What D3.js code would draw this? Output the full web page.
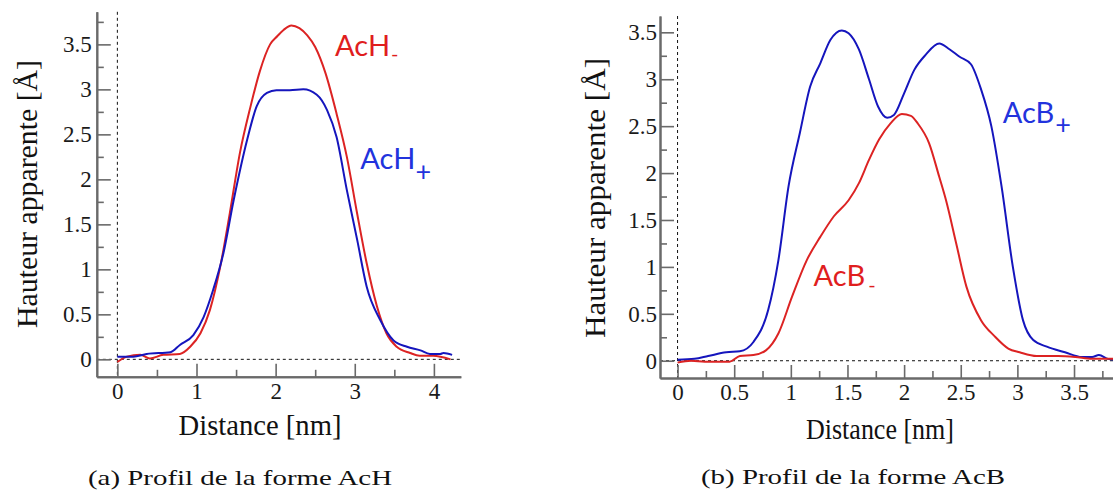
<!DOCTYPE html>
<html><head><meta charset="utf-8">
<script src="https://cdn.jsdelivr.net/npm/d3@7"></script>
<style>
body{margin:0;background:#fff}svg{display:block}
.serif{font-family:"Liberation Serif",serif}
.sans{font-family:Lato,"Open Sans",sans-serif}
</style>
</head><body>
<svg id="c" width="1113" height="490"></svg>
<script>
// ---------- data: panel (a) AcH ----------
const acHMinusDist = [0,0.12,0.29,0.41,0.58,0.79,0.92,1.05,1.17,1.30,1.42,1.55,1.68,1.80,1.93,2.02,2.10,2.20,2.30,2.40,2.50,2.63,2.77,2.90,3.03,3.15,3.28,3.40,3.53,3.70,3.82,3.99,4.21];
const acHMinusHeight = [-0.03,0.03,0.05,0.01,0.05,0.06,0.14,0.29,0.55,1.03,1.62,2.30,2.80,3.20,3.50,3.59,3.66,3.71,3.68,3.60,3.47,3.18,2.73,2.25,1.62,1.07,0.59,0.29,0.14,0.07,0.04,0.04,0.0];
const acHPlusDist = [0,0.2,0.37,0.67,0.79,0.96,1.09,1.21,1.34,1.47,1.64,1.76,1.89,2.01,2.18,2.35,2.52,2.65,2.77,2.90,3.03,3.15,3.32,3.49,3.66,3.83,3.95,4.08,4.12,4.23];
const acHPlusHeight = [0.03,0.03,0.06,0.08,0.16,0.27,0.47,0.77,1.18,1.77,2.44,2.81,2.96,2.99,2.99,3.0,2.94,2.77,2.47,1.88,1.33,0.81,0.44,0.21,0.14,0.10,0.06,0.06,0.07,0.05];

// ---------- data: panel (b) AcB ----------
const acBPlusDist = [0,0.15,0.27,0.43,0.55,0.67,0.80,0.89,0.98,1.08,1.17,1.26,1.35,1.45,1.51,1.60,1.69,1.77,1.85,1.91,2.00,2.09,2.19,2.31,2.40,2.49,2.59,2.68,2.77,2.86,2.96,3.05,3.14,3.26,3.42,3.57,3.66,3.72,3.80,3.87];
const acBPlusHeight = [0.01,0.02,0.05,0.09,0.10,0.20,0.54,1.07,1.86,2.43,2.92,3.17,3.42,3.52,3.49,3.32,3.00,2.71,2.59,2.62,2.85,3.10,3.26,3.38,3.32,3.24,3.16,2.89,2.50,1.86,1.00,0.43,0.22,0.15,0.09,0.04,0.04,0.06,0.02,0.01];
const acBMinusDist = [0,0.12,0.24,0.46,0.55,0.67,0.78,0.89,1.01,1.14,1.26,1.38,1.51,1.60,1.69,1.78,1.88,1.98,2.06,2.12,2.22,2.31,2.37,2.46,2.55,2.68,2.80,2.92,3.02,3.17,3.36,3.51,3.66,3.87];
const acBMinusHeight = [-0.02,0.0,-0.01,-0.01,0.05,0.06,0.11,0.29,0.68,1.07,1.32,1.54,1.71,1.89,2.14,2.36,2.53,2.63,2.61,2.53,2.32,1.96,1.71,1.25,0.79,0.43,0.26,0.13,0.09,0.05,0.05,0.04,0.02,0.02];

// ---------- ticks ----------
const aXTicks = [0,1,2,3,4];
const aXTickLabels = ["0","1","2","3","4"];
const aXMinor = [0.5,1.5,2.5,3.5];
const yTicks = [0,0.5,1,1.5,2,2.5,3,3.5];
const yTickLabels = ["0","0.5","1","1.5","2","2.5","3","3.5"];
const aYMinor = [0.25,0.75,1.25,1.75,2.25,2.75,3.25,3.75];
const bXTicks = [0,0.5,1,1.5,2,2.5,3,3.5];
const bXTickLabels = ["0","0.5","1","1.5","2","2.5","3","3.5"];
const bXMinor = [0.25,0.75,1.25,1.75,2.25,2.75,3.25,3.75];
const bYMinor = [0.25,0.75,1.25,1.75,2.25,2.75,3.25];

const xTitle = "Distance [nm]";
const yTitle = "Hauteur apparente [Å]";
const captions = ["(a) Profil de la forme AcH", "(b) Profil de la forme AcB"];

const RED_LINE = "#dc2323", BLUE_LINE = "#1515bd";
const RED_LABEL = "#e01e1e", BLUE_LABEL = "#2233dd";

const svg = d3.select("#c");

function panel(cfg) {
  const g = svg.append("g");
  const x = d3.scaleLinear().domain(cfg.xDomain).range(cfg.xRange);
  const y = d3.scaleLinear().domain(cfg.yDomain).range(cfg.yRange);
  const [xl, xr] = cfg.xRange, [yb, yt] = cfg.yRange;

  // dashed zero lines
  g.append("line").attr("x1", x(0)).attr("x2", x(0)).attr("y1", yt).attr("y2", yb)
    .attr("stroke", "#111").attr("stroke-width", 1).attr("stroke-dasharray", "3,3");
  g.append("line").attr("x1", xl).attr("x2", xr).attr("y1", y(0)).attr("y2", y(0))
    .attr("stroke", "#111").attr("stroke-width", 1).attr("stroke-dasharray", "3,3");

  const styleAxis = sel => {
    sel.attr("font-family", null).attr("font-size", null);
    sel.select(".domain").attr("stroke", "#6a6a6a").attr("stroke-width", 2);
    sel.selectAll(".tick line").attr("stroke", "#6a6a6a").attr("stroke-width", 1.6);
    sel.selectAll("text").attr("class", "serif").style("font-size", "23px").attr("fill", "#1a1a1a");
  };

  g.append("g").attr("transform", `translate(0,${yb})`)
    .call(d3.axisBottom(x).tickValues(cfg.xMinor).tickSizeInner(-7).tickSizeOuter(0).tickFormat(""))
    .call(styleAxis);
  g.append("g").attr("transform", `translate(0,${yb})`)
    .call(d3.axisBottom(x).tickValues(cfg.xTicks).tickSizeInner(-13).tickSizeOuter(0).tickPadding(6)
      .tickFormat((d, i) => cfg.xTickLabels[i]))
    .call(styleAxis);
  g.append("g").attr("transform", `translate(${xl},0)`)
    .call(d3.axisLeft(y).tickValues(cfg.yMinor).tickSizeInner(-7).tickSizeOuter(0).tickFormat(""))
    .call(styleAxis);
  g.append("g").attr("transform", `translate(${xl},0)`)
    .call(d3.axisLeft(y).tickValues(yTicks).tickSizeInner(-14).tickSizeOuter(0).tickPadding(cfg.yPad)
      .tickFormat((d, i) => yTickLabels[i]))
    .call(styleAxis);

  const line = d3.line().x(d => x(d[0])).y(d => y(d[1])).curve(d3.curveMonotoneX);
  cfg.series.forEach(s => {
    g.append("path").datum(d3.zip(s.dist, s.h)).attr("d", line)
      .attr("fill", "none").attr("stroke", s.color).attr("stroke-width", 2).attr("stroke-linejoin", "round");
  });

  cfg.labels.forEach(l => {
    const t = g.append("text").attr("class", "sans").attr("x", x(l.x)).attr("y", y(l.y))
      .style("font-size", "29px").attr("fill", l.color);
    t.append("tspan").text(l.text);
    t.append("tspan").text(l.sub).style("font-size", l.subSize + "px").attr("dx", l.subDx).attr("dy", l.subDy);
  });

  g.append("text").attr("class", "serif").attr("x", cfg.xTitlePos[0]).attr("y", cfg.xTitlePos[1])
    .attr("text-anchor", "middle").style("font-size", "29px").attr("fill", "#111")
    .attr("textLength", cfg.xTitleLen).attr("lengthAdjust", "spacingAndGlyphs").text(xTitle);
  g.append("text").attr("class", "serif").attr("transform", `translate(${cfg.yTitlePos[0]},${cfg.yTitlePos[1]}) rotate(-90)`)
    .attr("text-anchor", "middle").style("font-size", "29px").attr("fill", "#111")
    .attr("textLength", cfg.yTitleLen).attr("lengthAdjust", "spacingAndGlyphs").text(yTitle);

  g.append("text").attr("class", "serif").attr("x", cfg.capPos[0]).attr("y", cfg.capPos[1])
    .style("font-size", "22px").attr("fill", "#111")
    .attr("textLength", 304).attr("lengthAdjust", "spacingAndGlyphs").text(cfg.caption);
}

panel({
  xDomain: [-0.26, 4.34], xRange: [96.8, 460.8],
  yDomain: [-0.194, 3.862], yRange: [376.8, 11.8],
  xTicks: aXTicks, xTickLabels: aXTickLabels, xMinor: aXMinor, yMinor: aYMinor, yPad: 5,
  series: [
    {dist: acHMinusDist, h: acHMinusHeight, color: RED_LINE},
    {dist: acHPlusDist, h: acHPlusHeight, color: BLUE_LINE}
  ],
  labels: [
    {text: "AcH", sub: "-", x: 2.75, y: 3.37, color: RED_LABEL, subSize: 20, subDx: 1, subDy: 5},
    {text: "AcH", sub: "+", x: 3.07, y: 2.12, color: BLUE_LABEL, subSize: 27, subDx: 0, subDy: 12}
  ],
  xTitlePos: [260, 435], xTitleLen: 163,
  yTitlePos: [36.5, 194], yTitleLen: 268,
  capPos: [88, 484.5], caption: captions[0]
});

panel({
  xDomain: [-0.155, 3.92], xRange: [660, 1121.6],
  yDomain: [-0.184, 3.674], yRange: [378, 16],
  xTicks: bXTicks, xTickLabels: bXTickLabels, xMinor: bXMinor, yMinor: bYMinor, yPad: 3,
  series: [
    {dist: acBPlusDist, h: acBPlusHeight, color: BLUE_LINE},
    {dist: acBMinusDist, h: acBMinusHeight, color: RED_LINE}
  ],
  labels: [
    {text: "AcB", sub: "+", x: 2.87, y: 2.53, color: BLUE_LABEL, subSize: 27, subDx: 1, subDy: 11},
    {text: "AcB", sub: "-", x: 1.20, y: 0.80, color: RED_LABEL, subSize: 20, subDx: 3, subDy: 6}
  ],
  xTitlePos: [880, 439], xTitleLen: 148,
  yTitlePos: [605, 198], yTitleLen: 280,
  capPos: [701, 484], caption: captions[1]
});
</script>
</body></html>
